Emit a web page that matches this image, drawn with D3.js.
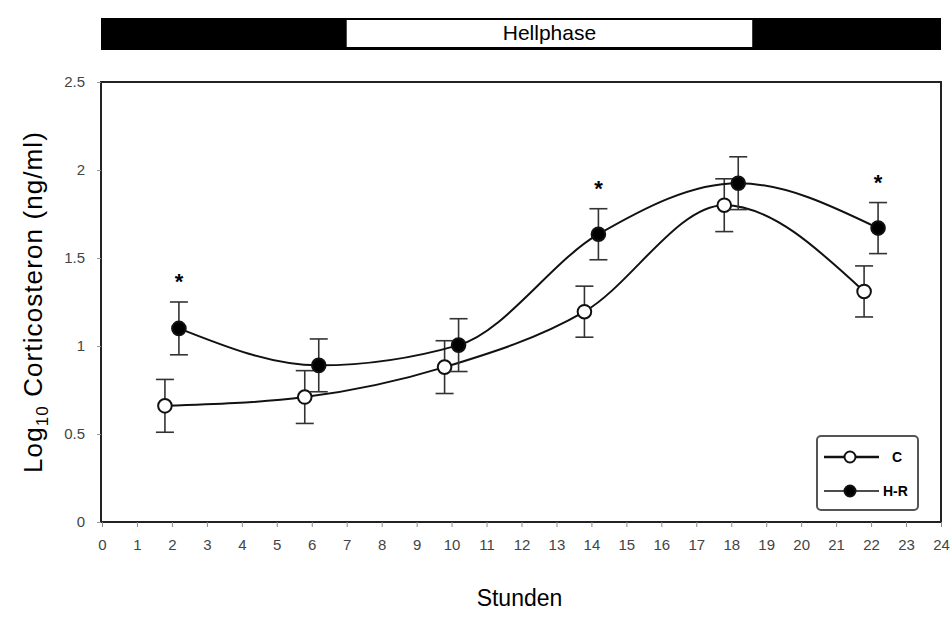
<!DOCTYPE html>
<html>
<head>
<meta charset="utf-8">
<script src="https://cdn.jsdelivr.net/npm/d3@7"></script>
<style>
  body { margin: 0; background: #fff; }
  svg { font-family: "Liberation Sans", Arial, sans-serif; }
</style>
</head>
<body>
<div id="chart"></div>
<script>
// Dimensions
const width = 952;
const height = 619;
const margin = { top: 82, right: 11, bottom: 97, left: 102 };

// Données
const hours = [2, 6, 10, 14, 18, 22];
const valuesC = [0.66, 0.71, 0.88, 1.195, 1.80, 1.31];
const errorsC = [0.15, 0.15, 0.15, 0.145, 0.15, 0.145];
const valuesHR = [1.10, 0.89, 1.005, 1.635, 1.925, 1.67];
const errorsHR = [0.15, 0.15, 0.15, 0.145, 0.15, 0.145];
const significant = [2, 14, 22];
const xTicks = d3.range(0, 25);
const yTicks = [0, 0.5, 1, 1.5, 2, 2.5];
const lightPhase = [7, 18.6];

// Décalage horizontal des deux séries
const offsetC = -0.2;
const offsetHR = 0.2;

const svg = d3.select("#chart")
  .append("svg")
  .attr("width", width)
  .attr("height", height);

const x = d3.scaleLinear()
  .domain([0, 24])
  .range([margin.left, width - margin.right]);

const y = d3.scaleLinear()
  .domain([0, 2.5])
  .range([height - margin.bottom, margin.top]);

// Barre Hellphase
svg.append("rect")
  .attr("x", x(0) - 1)
  .attr("y", 18)
  .attr("width", x(24) - x(0) + 1)
  .attr("height", 32)
  .attr("fill", "#000");

svg.append("rect")
  .attr("x", x(lightPhase[0]))
  .attr("y", 20)
  .attr("width", x(lightPhase[1]) - x(lightPhase[0]))
  .attr("height", 27)
  .attr("fill", "#fff");

svg.append("text")
  .attr("x", (x(lightPhase[0]) + x(lightPhase[1])) / 2)
  .attr("y", 40)
  .attr("text-anchor", "middle")
  .style("font-size", "21px")
  .text("Hellphase");

// Cadre du graphique
svg.append("rect")
  .attr("x", x(0) - 1)
  .attr("y", y(2.5))
  .attr("width", x(24) - x(0) + 1)
  .attr("height", y(0) - y(2.5))
  .attr("fill", "none")
  .attr("stroke", "#222")
  .attr("stroke-width", 2);

// Axe horizontal
svg.append("g")
  .attr("transform", `translate(0, ${y(0)})`)
  .call(d3.axisBottom(x).tickValues(xTicks).tickSize(5).tickPadding(12).tickFormat(d3.format("d")))
  .call(g => g.select(".domain").remove())
  .call(g => g.selectAll("line").attr("stroke", "#888"))
  .call(g => g.selectAll("text").style("font-size", "15px").attr("fill", "#444"));

// Axe vertical
svg.append("g")
  .attr("transform", `translate(${x(0) - 1}, 0)`)
  .call(d3.axisLeft(y).tickValues(yTicks).tickSize(4).tickPadding(12).tickFormat(d => d))
  .call(g => g.select(".domain").remove())
  .call(g => g.selectAll("line").attr("stroke", "#999"))
  .call(g => g.selectAll("text").style("font-size", "15px").attr("fill", "#444"));

// Titres des axes
svg.append("text")
  .attr("x", x(12) - 2)
  .attr("y", 606)
  .attr("text-anchor", "middle")
  .style("font-size", "23px")
  .text("Stunden");

const yLabel = svg.append("text")
  .attr("transform", `translate(42, ${(y(0) + y(2.5)) / 2}) rotate(-90)`)
  .attr("text-anchor", "middle")
  .style("font-size", "26px")
  .style("letter-spacing", "1.1px");
yLabel.append("tspan").text("Log");
yLabel.append("tspan").attr("dy", 6).style("font-size", "17px").text("10");
yLabel.append("tspan").attr("dy", -6).text(" Corticosteron (ng/ml)");

// Séries
const seriesC = hours.map((h, i) => ({ h: h + offsetC, v: valuesC[i], e: errorsC[i] }));
const seriesHR = hours.map((h, i) => ({ h: h + offsetHR, v: valuesHR[i], e: errorsHR[i] }));

const line = d3.line()
  .x(d => x(d.h))
  .y(d => y(d.v))
  .curve(d3.curveMonotoneX);

function drawSeries(data, filled) {
  const g = svg.append("g");

  g.append("path")
    .datum(data)
    .attr("d", line)
    .attr("fill", "none")
    .attr("stroke", "#111")
    .attr("stroke-width", 2);

  // Barres d'erreur
  const bars = g.selectAll("g.err")
    .data(data)
    .join("g")
    .attr("class", "err")
    .attr("stroke", "#333")
    .attr("stroke-width", 1.6);

  bars.append("line")
    .attr("x1", d => x(d.h)).attr("x2", d => x(d.h))
    .attr("y1", d => y(d.v + d.e)).attr("y2", d => y(d.v - d.e));
  bars.append("line")
    .attr("x1", d => x(d.h) - 9).attr("x2", d => x(d.h) + 9)
    .attr("y1", d => y(d.v + d.e)).attr("y2", d => y(d.v + d.e));
  bars.append("line")
    .attr("x1", d => x(d.h) - 9).attr("x2", d => x(d.h) + 9)
    .attr("y1", d => y(d.v - d.e)).attr("y2", d => y(d.v - d.e));

  // Marqueurs
  g.selectAll("circle")
    .data(data)
    .join("circle")
    .attr("cx", d => x(d.h))
    .attr("cy", d => y(d.v))
    .attr("r", 6.8)
    .attr("fill", filled ? "#000" : "#fff")
    .attr("stroke", "#111")
    .attr("stroke-width", 2);
}

drawSeries(seriesC, false);
drawSeries(seriesHR, true);

// Astérisques
svg.append("g")
  .selectAll("text")
  .data(seriesHR.filter((d, i) => significant.includes(hours[i])))
  .join("text")
  .attr("x", d => x(d.h))
  .attr("y", d => y(d.v + d.e) - 13)
  .attr("text-anchor", "middle")
  .style("font-size", "22px")
  .style("font-weight", "bold")
  .text("*");

// Légende
const legend = svg.append("g").attr("transform", "translate(817, 436)");
legend.append("rect")
  .attr("width", 101)
  .attr("height", 74)
  .attr("rx", 4)
  .attr("fill", "#fff")
  .attr("stroke", "#555")
  .attr("stroke-width", 2);

const legendItems = [
  { label: "C", filled: false, lw: 2.4, ty: 21, tx: 75 },
  { label: "H-R", filled: true, lw: 1.6, ty: 55, tx: 66 }
];

legendItems.forEach(d => {
  legend.append("line")
    .attr("x1", 7).attr("x2", 62)
    .attr("y1", d.ty).attr("y2", d.ty)
    .attr("stroke", "#111")
    .attr("stroke-width", d.lw);
  legend.append("circle")
    .attr("cx", 33).attr("cy", d.ty)
    .attr("r", 5.5)
    .attr("fill", d.filled ? "#000" : "#fff")
    .attr("stroke", "#111")
    .attr("stroke-width", 2);
  legend.append("text")
    .attr("x", d.tx).attr("y", d.ty + 5)
    .style("font-size", "14px")
    .style("font-weight", "bold")
    .text(d.label);
});
</script>
</body>
</html>
